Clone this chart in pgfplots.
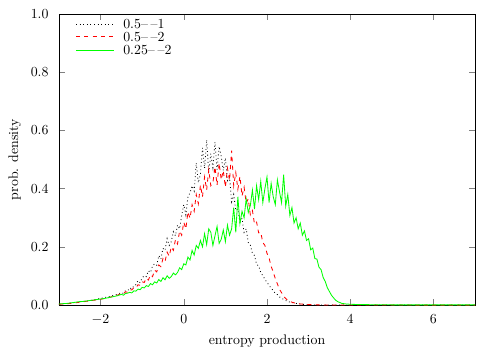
\documentclass[border=0pt]{standalone}
\usepackage{pgfplots}
\pgfplotsset{compat=1.18}

\begin{document}
\begin{tikzpicture}
\begin{axis}[
    scale only axis,
    width=300pt, height=210pt,
    xmin=-3, xmax=7, ymin=0, ymax=1,
    xtick={-2,0,2,4,6},
    ytick={0,0.2,0.4,0.6,0.8,1.0},
    yticklabel style={/pgf/number format/fixed,/pgf/number format/fixed zerofill,/pgf/number format/precision=1,xshift=-4pt},
    xticklabel style={yshift=-3pt},
    minor tick num=0,
    tick align=inside,
    xlabel={entropy production},
    ylabel={prob. density},
    xlabel style={at={(axis description cs:0.5,-0.124)},anchor=center},
    ylabel style={at={(axis description cs:-0.106,0.5)},anchor=center},
]
% 0.5--1
\addplot[black,dotted,line width=0.6pt] coordinates {
(-3.0,0.004) (-2.9,0.005) (-2.8,0.006) (-2.7,0.008) (-2.6,0.009) (-2.5,0.011) (-2.4,0.013) (-2.3,0.015) (-2.2,0.017) (-2.1,0.020) (-2.0,0.023) (-1.9,0.026) (-1.8,0.029) (-1.7,0.033) (-1.6,0.037)
(-1.50,0.043) (-1.45,0.040) (-1.40,0.050) (-1.35,0.053) (-1.30,0.051) (-1.25,0.064) (-1.20,0.062) (-1.15,0.071) (-1.10,0.084) (-1.05,0.077)
(-1.00,0.094) (-0.95,0.101) (-0.90,0.098) (-0.85,0.118) (-0.80,0.112) (-0.75,0.135) (-0.70,0.142) (-0.65,0.137) (-0.60,0.170) (-0.55,0.158)
(-0.50,0.195) (-0.45,0.188) (-0.40,0.228) (-0.35,0.205) (-0.30,0.218) (-0.25,0.252) (-0.20,0.238) (-0.15,0.275) (-0.10,0.262) (-0.05,0.308)
(0.00,0.345) (0.05,0.310) (0.10,0.372) (0.15,0.385) (0.20,0.410) (0.25,0.392) (0.30,0.488) (0.35,0.420) (0.40,0.450) (0.45,0.540)
(0.50,0.470) (0.55,0.568) (0.60,0.455) (0.65,0.520) (0.70,0.472) (0.75,0.560) (0.80,0.465) (0.85,0.545) (0.90,0.510) (0.95,0.462)
(1.00,0.505) (1.05,0.428) (1.10,0.440) (1.15,0.355) (1.20,0.380) (1.25,0.325) (1.30,0.330) (1.35,0.285) (1.40,0.298) (1.45,0.250)
(1.50,0.262) (1.55,0.215) (1.60,0.206) (1.65,0.178) (1.70,0.170) (1.75,0.140) (1.80,0.135) (1.85,0.112) (1.90,0.101) (1.95,0.089)
(2.00,0.078) (2.05,0.068) (2.10,0.058) (2.15,0.050) (2.20,0.040) (2.25,0.036) (2.30,0.028) (2.35,0.025) (2.40,0.019) (2.45,0.016)
(2.50,0.012) (2.6,0.009) (2.7,0.006) (2.8,0.004) (2.9,0.002) (3.0,0.001) (3.2,0.0005) (3.5,0.0003) (4.0,0.0002) (5.0,0.0001) (6.0,0.0001) (7.0,0.0001)
};
% 0.5--2
\addplot[red,dashed,line width=0.6pt] coordinates {
(-3.0,0.003) (-2.9,0.004) (-2.8,0.005) (-2.7,0.006) (-2.6,0.008) (-2.5,0.010) (-2.4,0.012) (-2.3,0.014) (-2.2,0.016) (-2.1,0.018) (-2.0,0.020) (-1.9,0.023) (-1.8,0.026) (-1.7,0.030) (-1.6,0.034)
(-1.50,0.040) (-1.45,0.039) (-1.40,0.046) (-1.35,0.044) (-1.30,0.053) (-1.25,0.052) (-1.20,0.060) (-1.15,0.059) (-1.10,0.070) (-1.05,0.068)
(-1.00,0.080) (-0.95,0.078) (-0.90,0.092) (-0.85,0.086) (-0.80,0.104) (-0.75,0.098) (-0.70,0.120) (-0.65,0.114) (-0.60,0.138) (-0.55,0.132)
(-0.50,0.160) (-0.45,0.150) (-0.40,0.182) (-0.35,0.168) (-0.30,0.200) (-0.25,0.188) (-0.20,0.225) (-0.15,0.210) (-0.10,0.255) (-0.05,0.240)
(0.00,0.285) (0.05,0.262) (0.10,0.320) (0.15,0.298) (0.20,0.345) (0.25,0.322) (0.30,0.380) (0.35,0.348) (0.40,0.412) (0.45,0.372)
(0.50,0.440) (0.55,0.395) (0.60,0.465) (0.65,0.410) (0.70,0.420) (0.75,0.475) (0.80,0.412) (0.85,0.488) (0.90,0.430) (0.95,0.462)
(1.00,0.405) (1.05,0.470) (1.10,0.428) (1.15,0.530) (1.20,0.410) (1.25,0.455) (1.30,0.398) (1.35,0.442) (1.40,0.375) (1.45,0.405)
(1.50,0.350) (1.55,0.365) (1.60,0.310) (1.65,0.325) (1.70,0.278) (1.75,0.285) (1.80,0.248) (1.85,0.250) (1.90,0.215) (1.95,0.205)
(2.00,0.178) (2.05,0.162) (2.10,0.133) (2.15,0.114) (2.20,0.091) (2.25,0.073) (2.30,0.054) (2.35,0.043) (2.40,0.030) (2.45,0.023)
(2.50,0.016) (2.6,0.010) (2.7,0.006) (2.8,0.004) (2.9,0.003) (3.0,0.002) (3.2,0.001) (3.5,0.0005) (4.0,0.0003) (5.0,0.0002) (6.0,0.0001) (7.0,0.0001)
};
% 0.25--2
\addplot[green,solid,line width=0.6pt] coordinates {
(-3.0,0.004) (-2.9,0.005) (-2.8,0.006) (-2.7,0.008) (-2.6,0.010) (-2.5,0.012) (-2.4,0.013) (-2.3,0.015) (-2.2,0.017) (-2.1,0.019) (-2.0,0.021) (-1.9,0.023) (-1.8,0.026) (-1.7,0.029) (-1.6,0.032)
(-1.50,0.037) (-1.45,0.034) (-1.40,0.040) (-1.35,0.041) (-1.30,0.044) (-1.25,0.042) (-1.20,0.049) (-1.15,0.048) (-1.10,0.055) (-1.05,0.053)
(-1.00,0.061) (-0.95,0.059) (-0.90,0.067) (-0.85,0.064) (-0.80,0.074) (-0.75,0.070) (-0.70,0.080) (-0.65,0.076) (-0.60,0.088) (-0.55,0.081)
(-0.50,0.094) (-0.45,0.087) (-0.40,0.101) (-0.35,0.092) (-0.30,0.098) (-0.25,0.110) (-0.20,0.104) (-0.15,0.112) (-0.10,0.128) (-0.05,0.122)
(0.00,0.142) (0.05,0.138) (0.10,0.165) (0.15,0.155) (0.20,0.188) (0.25,0.172) (0.30,0.205) (0.35,0.195) (0.40,0.222) (0.45,0.200)
(0.50,0.245) (0.55,0.208) (0.60,0.262) (0.65,0.250) (0.70,0.205) (0.75,0.238) (0.80,0.270) (0.85,0.212) (0.90,0.226) (0.95,0.258)
(1.00,0.218) (1.05,0.275) (1.10,0.240) (1.15,0.262) (1.20,0.335) (1.25,0.250) (1.30,0.372) (1.35,0.280) (1.40,0.322) (1.45,0.300)
(1.50,0.365) (1.55,0.318) (1.60,0.342) (1.65,0.395) (1.70,0.330) (1.75,0.410) (1.80,0.362) (1.85,0.425) (1.90,0.352) (1.95,0.400)
(2.00,0.440) (2.05,0.352) (2.10,0.418) (2.15,0.372) (2.20,0.345) (2.25,0.430) (2.30,0.390) (2.35,0.352) (2.40,0.448) (2.45,0.340)
(2.50,0.380) (2.55,0.308) (2.60,0.335) (2.65,0.282) (2.70,0.300) (2.75,0.262) (2.80,0.282) (2.85,0.240) (2.90,0.255) (2.95,0.222)
(3.00,0.228) (3.05,0.190) (3.10,0.196) (3.15,0.160) (3.20,0.158) (3.25,0.130) (3.30,0.122) (3.35,0.095) (3.40,0.081) (3.45,0.060)
(3.50,0.047) (3.55,0.034) (3.60,0.025) (3.65,0.017) (3.70,0.012) (3.75,0.009) (3.80,0.006) (3.90,0.004) (4.00,0.003) (4.2,0.002) (4.5,0.0015) (5.0,0.001) (6.0,0.001) (7.0,0.001)
};
% key, drawn by hand; labels first, black key last
\node[anchor=west,inner sep=0pt] at (axis description cs:0.154,0.965) {0.5\textendash\kern2pt\textendash 1};
\node[anchor=west,inner sep=0pt] at (axis description cs:0.154,0.921) {0.5\textendash\kern2pt\textendash 2};
\node[anchor=west,inner sep=0pt] at (axis description cs:0.154,0.876) {0.25\textendash\kern2pt\textendash 2};
\draw[green,line width=0.6pt] (axis description cs:0.041,0.876) -- (axis description cs:0.132,0.876);
\draw[red,dashed,line width=0.6pt] (axis description cs:0.041,0.921) -- (axis description cs:0.132,0.921);
\draw[black,dotted,line width=0.6pt] (axis description cs:0.041,0.965) -- (axis description cs:0.132,0.965);
\end{axis}
\path[draw=none] ([xshift=-42.5pt,yshift=-32pt]current axis.south west) rectangle ([xshift=18pt,yshift=10pt]current axis.north east);
\end{tikzpicture}
\end{document}
